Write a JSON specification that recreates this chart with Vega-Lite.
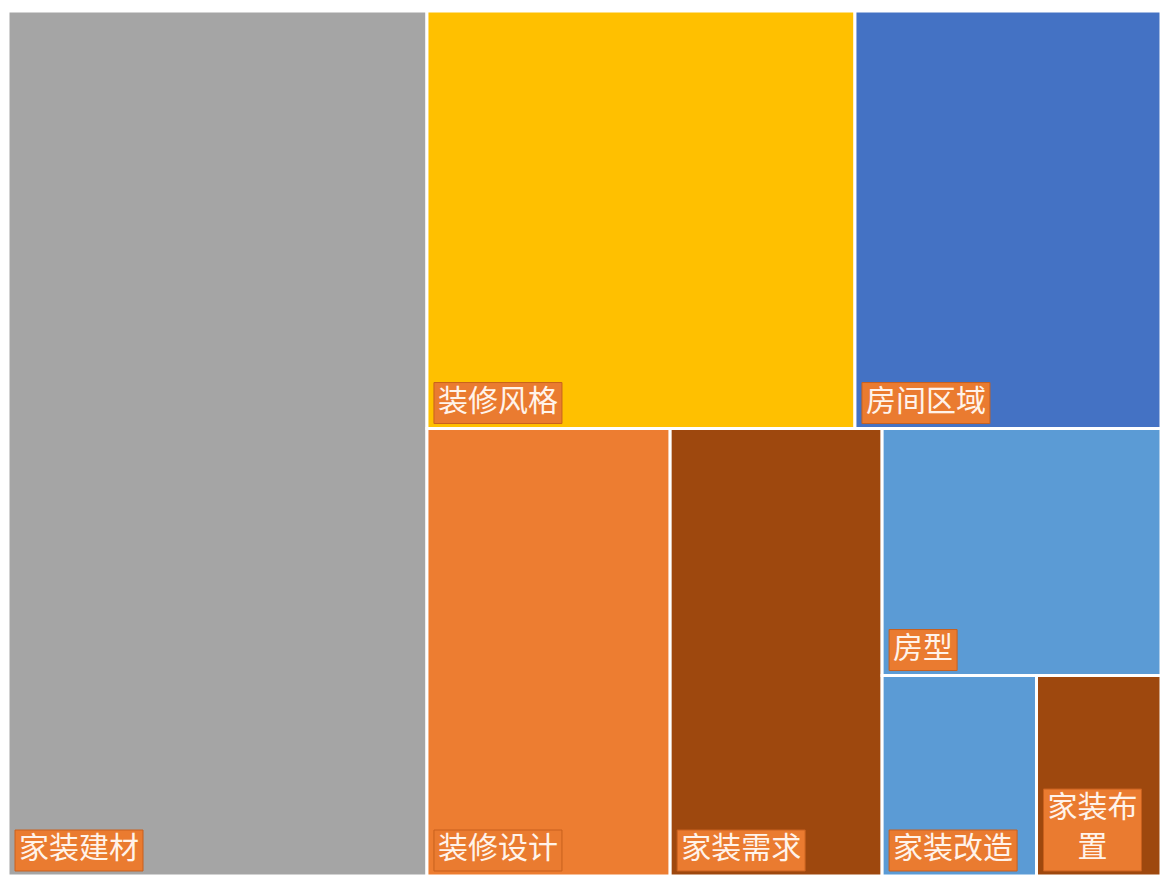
{
  "$schema": "https://vega.github.io/schema/vega-lite/v6.json",
  "width": 1153,
  "height": 865,
  "autosize": {"type": "none"},
  "padding": {"left": 8, "top": 11, "right": 0, "bottom": 2},
  "background": "white",
  "config": {"view": {"stroke": null}},
  "data": {
    "values": [
      {"name": "家装建材", "label": "家装建材", "value": 36.3, "l1": "a", "l2": "a", "l3": "a", "l4": "a", "l5": "a"},
      {"name": "装修风格", "label": "装修风格", "value": 17.9, "l1": "b", "l2": "a", "l3": "a", "l4": "a", "l5": "a"},
      {"name": "房间区域", "label": "房间区域", "value": 12.8, "l1": "b", "l2": "a", "l3": "b", "l4": "a", "l5": "a"},
      {"name": "装修设计", "label": "装修设计", "value": 10.9, "l1": "b", "l2": "b", "l3": "a", "l4": "a", "l5": "a"},
      {"name": "家装需求", "label": "家装需求", "value": 9.5, "l1": "b", "l2": "b", "l3": "b", "l4": "a", "l5": "a"},
      {"name": "房型", "label": "房型", "value": 6.9, "l1": "b", "l2": "b", "l3": "c", "l4": "a", "l5": "a"},
      {"name": "家装改造", "label": "家装改造", "value": 3.1, "l1": "b", "l2": "b", "l3": "c", "l4": "b", "l5": "a"},
      {"name": "家装布置", "label": "家装布\n置", "value": 2.5, "l1": "b", "l2": "b", "l3": "c", "l4": "b", "l5": "b"}
    ]
  },
  "transform": [
    {"joinaggregate": [{"op": "sum", "field": "value", "as": "t1"}]},
    {"joinaggregate": [{"op": "sum", "field": "value", "as": "s1"}], "groupby": ["l1"]},
    {"window": [{"op": "sum", "field": "value", "as": "c1"}], "sort": [{"field": "l1"}], "frame": [null, 0]},
    {"joinaggregate": [{"op": "sum", "field": "value", "as": "t2"}], "groupby": ["l1"]},
    {"joinaggregate": [{"op": "sum", "field": "value", "as": "s2"}], "groupby": ["l1", "l2"]},
    {"window": [{"op": "sum", "field": "value", "as": "c2"}], "groupby": ["l1"], "sort": [{"field": "l2"}], "frame": [null, 0]},
    {"joinaggregate": [{"op": "sum", "field": "value", "as": "t3"}], "groupby": ["l1", "l2"]},
    {"joinaggregate": [{"op": "sum", "field": "value", "as": "s3"}], "groupby": ["l1", "l2", "l3"]},
    {"window": [{"op": "sum", "field": "value", "as": "c3"}], "groupby": ["l1", "l2"], "sort": [{"field": "l3"}], "frame": [null, 0]},
    {"joinaggregate": [{"op": "sum", "field": "value", "as": "t4"}], "groupby": ["l1", "l2", "l3"]},
    {"joinaggregate": [{"op": "sum", "field": "value", "as": "s4"}], "groupby": ["l1", "l2", "l3", "l4"]},
    {"window": [{"op": "sum", "field": "value", "as": "c4"}], "groupby": ["l1", "l2", "l3"], "sort": [{"field": "l4"}], "frame": [null, 0]},
    {"joinaggregate": [{"op": "sum", "field": "value", "as": "t5"}], "groupby": ["l1", "l2", "l3", "l4"]},
    {"joinaggregate": [{"op": "sum", "field": "value", "as": "s5"}], "groupby": ["l1", "l2", "l3", "l4", "l5"]},
    {"window": [{"op": "sum", "field": "value", "as": "c5"}], "groupby": ["l1", "l2", "l3", "l4"], "sort": [{"field": "l5"}], "frame": [null, 0]},
    {"calculate": "(datum.c1 - datum.s1) / datum.t1", "as": "ax0"},
    {"calculate": "datum.c1 / datum.t1", "as": "ax1"},
    {"calculate": "(datum.c2 - datum.s2) / datum.t2", "as": "ay0"},
    {"calculate": "datum.c2 / datum.t2", "as": "ay1"},
    {"calculate": "datum.ax0 + (datum.ax1 - datum.ax0) * (datum.c3 - datum.s3) / datum.t3", "as": "bx0"},
    {"calculate": "datum.ax0 + (datum.ax1 - datum.ax0) * datum.c3 / datum.t3", "as": "bx1"},
    {"calculate": "datum.ay0 + (datum.ay1 - datum.ay0) * (datum.c4 - datum.s4) / datum.t4", "as": "by0"},
    {"calculate": "datum.ay0 + (datum.ay1 - datum.ay0) * datum.c4 / datum.t4", "as": "by1"},
    {"calculate": "datum.bx0 + (datum.bx1 - datum.bx0) * (datum.c5 - datum.s5) / datum.t5", "as": "cx0"},
    {"calculate": "datum.bx0 + (datum.bx1 - datum.bx0) * datum.c5 / datum.t5", "as": "cx1"},
    {"calculate": "split(datum.label, '\\n')", "as": "lines"},
    {"calculate": "length(datum.lines[0])", "as": "nchar"},
    {"calculate": "length(datum.lines)", "as": "nlines"}
  ],
  "layer": [
    {
      "mark": {"type": "rect", "stroke": "white", "strokeWidth": 3},
      "encoding": {
        "x": {"field": "cx0", "type": "quantitative", "scale": {"domain": [0, 1], "nice": false, "zero": false}, "axis": null},
        "x2": {"field": "cx1"},
        "y": {"field": "by0", "type": "quantitative", "scale": {"domain": [0, 1], "nice": false, "zero": false, "reverse": true}, "axis": null},
        "y2": {"field": "by1"},
        "color": {
          "field": "name", "type": "nominal", "legend": null,
          "scale": {
            "domain": ["家装建材", "装修风格", "房间区域", "装修设计", "家装需求", "房型", "家装改造", "家装布置"],
            "range": ["#A5A5A5", "#FFC000", "#4472C4", "#ED7D31", "#9E480E", "#5B9BD5", "#5B9BD5", "#9E480E"]
          }
        }
      }
    },
    {
      "mark": {
        "type": "rect", "fill": "#EA7B30", "stroke": "#C8611E", "strokeWidth": 1,
        "xOffset": 7,
        "x2Offset": {"expr": "7 + datum.nchar * 30 + 8"},
        "yOffset": -5,
        "y2Offset": {"expr": "-5 - datum.nlines * 41"}
      },
      "encoding": {
        "x": {"field": "cx0", "type": "quantitative"},
        "x2": {"field": "cx0"},
        "y": {"field": "by1", "type": "quantitative"},
        "y2": {"field": "by1"}
      }
    },
    {
      "mark": {
        "type": "text", "align": "center", "baseline": "top", "lineHeight": 40,
        "font": "Noto Sans CJK SC", "fontSize": 30, "fill": "#FFF3EA",
        "dx": {"expr": "7 + (datum.nchar * 30 + 8) / 2"},
        "dy": {"expr": "-5 - datum.nlines * 41 + 4"}
      },
      "encoding": {
        "x": {"field": "cx0", "type": "quantitative"},
        "y": {"field": "by1", "type": "quantitative"},
        "text": {"field": "lines"}
      }
    }
  ]
}
